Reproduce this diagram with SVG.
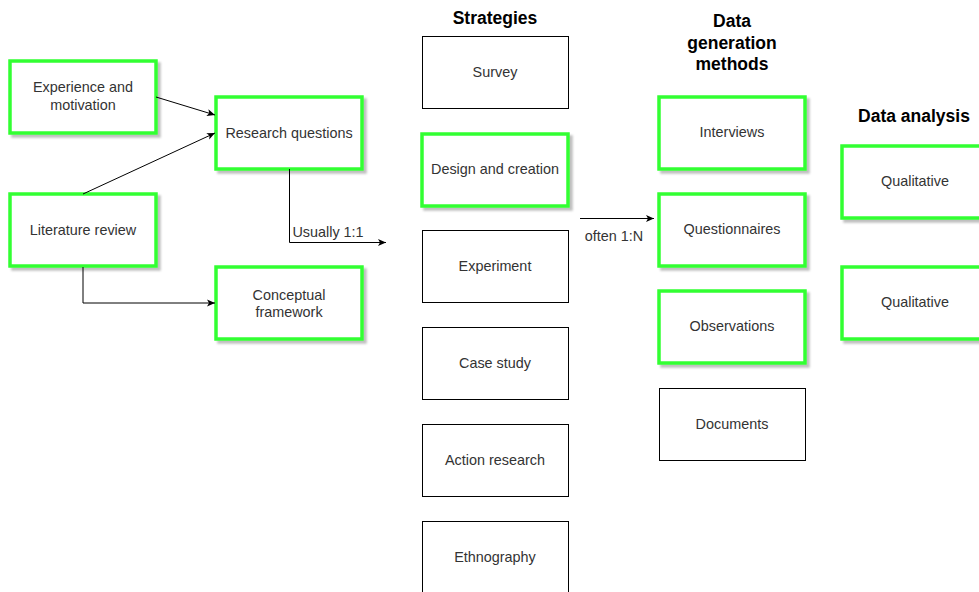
<svg xmlns="http://www.w3.org/2000/svg" width="979" height="592" viewBox="0 0 979 592">
<defs>
<marker id="ah" markerWidth="10" markerHeight="10" refX="9" refY="5" orient="auto" markerUnits="userSpaceOnUse">
<path d="M1,1.5 L9,5 L1,8.5 L3,5 Z" fill="#000"/>
</marker>
<filter id="sh" x="-10%" y="-10%" width="130%" height="130%">
<feDropShadow dx="3" dy="3" stdDeviation="0.8" flood-color="#000" flood-opacity="0.25"/>
</filter>
</defs>
<style>
.g{fill:#fff;stroke:#33FF33;stroke-width:3.5;filter:url(#sh)}
.b{fill:#fff;stroke:#000;stroke-width:1}
.t{font-family:"Liberation Sans",Arial,sans-serif;font-size:14.4px;fill:#333;text-anchor:middle;dominant-baseline:central}
.h{font-family:"Liberation Sans",Arial,sans-serif;font-size:17.5px;font-weight:bold;fill:#000;text-anchor:middle;dominant-baseline:central}
.c{fill:none;stroke:#000;stroke-width:1;marker-end:url(#ah)}
</style>
<rect width="979" height="592" fill="#fff"/>
<text class="h" x="495" y="18">Strategies</text>
<text class="h" x="732" y="21">Data</text>
<text class="h" x="732" y="43">generation</text>
<text class="h" x="732" y="64">methods</text>
<text class="h" x="914" y="116">Data analysis</text>

<g id="experience"><rect class="g" x="10" y="61" width="146" height="72"/><text class="t" x="83" y="87">Experience and</text><text class="t" x="83" y="105">motivation</text></g>
<g id="research-questions"><rect class="g" x="216" y="97" width="146" height="72"/><text class="t" x="289" y="133">Research questions</text></g>
<g id="literature-review"><rect class="g" x="10" y="194" width="146" height="72"/><text class="t" x="83" y="230">Literature review</text></g>
<g id="conceptual-framework"><rect class="g" x="216" y="267" width="146" height="72"/><text class="t" x="289" y="295">Conceptual</text><text class="t" x="289" y="312">framework</text></g>

<g id="survey"><rect class="b" x="422.5" y="36.5" width="146" height="72"/><text class="t" x="495" y="72">Survey</text></g>
<g id="design-creation"><rect class="g" x="422" y="134" width="146" height="72"/><text class="t" x="495" y="169">Design and creation</text></g>
<g id="experiment"><rect class="b" x="422.5" y="230.5" width="146" height="72"/><text class="t" x="495" y="266">Experiment</text></g>
<g id="case-study"><rect class="b" x="422.5" y="327.5" width="146" height="72"/><text class="t" x="495" y="363">Case study</text></g>
<g id="action-research"><rect class="b" x="422.5" y="424.5" width="146" height="72"/><text class="t" x="495" y="460">Action research</text></g>
<g id="ethnography"><rect class="b" x="422.5" y="521.5" width="146" height="72"/><text class="t" x="495" y="557">Ethnography</text></g>

<g id="interviews"><rect class="g" x="659" y="97" width="146" height="72"/><text class="t" x="732" y="132">Interviews</text></g>
<g id="questionnaires"><rect class="g" x="659" y="194" width="146" height="72"/><text class="t" x="732" y="229">Questionnaires</text></g>
<g id="observations"><rect class="g" x="659" y="291" width="146" height="72"/><text class="t" x="732" y="326">Observations</text></g>
<g id="documents"><rect class="b" x="659.5" y="388.5" width="146" height="72"/><text class="t" x="732" y="424">Documents</text></g>

<g id="qualitative-1"><rect class="g" x="842" y="146" width="146" height="72"/><text class="t" x="915" y="181">Qualitative</text></g>
<g id="qualitative-2"><rect class="g" x="842" y="267" width="146" height="72"/><text class="t" x="915" y="302">Qualitative</text></g>

<g id="connectors">
<path class="c" d="M156,97 L215,115"/>
<path class="c" d="M83,194 L215,133"/>
<path class="c" d="M83,267 L83,303 L215,303"/>
<path class="c" d="M289.5,169 L289.5,242.5 L386,242.5"/>
<path class="c" d="M580,218.5 L654,218.5"/>
<text class="t" x="328" y="232">Usually 1:1</text>
<text class="t" x="614" y="236">often 1:N</text>
</g>
</svg>
